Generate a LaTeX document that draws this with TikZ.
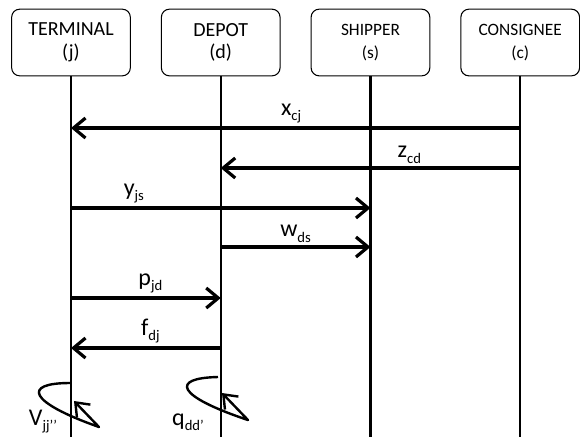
\documentclass[tikz,border=0pt]{standalone}
\usepackage{fontspec}
\setmainfont{Carlito}
\usetikzlibrary{arrows.meta,positioning}
\tikzset{
  actor/.style={
    rounded corners=6pt, draw=black, line width=0.8pt, fill=white,
    minimum width=89pt, minimum height=50pt, align=center,
    font=\fontsize{15}{17}\selectfont
  },
  smallactor/.style={actor, font=\fontsize{13}{17}\selectfont},
  lifeline/.style={line width=1.6pt},
  msg/.style={-{Straight Barb[length=9pt,width=15pt,line width=2.4pt]}, line width=3pt},
  selfmsg/.style={-{Straight Barb[length=9pt,width=14pt]}, line width=1.8pt, line join=round},
  lbl/.style={font=\fontsize{18}{18}\selectfont, inner sep=2pt}
}
\newcommand{\flowvar}[2]{#1{\fontsize{11}{11}\selectfont\raisebox{-4pt}{#2}}}

\begin{document}
\begin{tikzpicture}[x=0.75pt,y=-0.75pt,node distance=22.5pt]
    \useasboundingbox (0,0) rectangle (580,437);
    \node[actor] (term) at (71,42.5) {TERMINAL\\(j)};
    \node[actor,right=of term] (depot) {DEPOT\\(d)};
    \node[smallactor,right=of depot] (ship) {SHIPPER\\(s)};
    \node[smallactor,right=of ship] (cons) {CONSIGNEE\\(c)};
    \coordinate (bot) at (0,437);
    \foreach \n in {term,depot,ship,cons}
      \draw[lifeline] (\n.south) -- (\n.south |- bot);
    % message levels
    \coordinate (lx) at (0,128);
    \coordinate (lz) at (0,168);
    \coordinate (ly) at (0,208);
    \coordinate (lw) at (0,247);
    \coordinate (lp) at (0,298);
    \coordinate (lf) at (0,348);
    \draw[msg] (cons |- lx) -- node[lbl,above,pos=0.51] {\flowvar{x}{cj}} (term |- lx);
    \draw[msg] (cons |- lz) -- node[lbl,above,pos=0.37] {\flowvar{z}{cd}} (depot |- lz);
    \draw[msg] (term |- ly) -- node[lbl,above,pos=0.21] {\flowvar{y}{js}} (ship |- ly);
    \draw[msg] (depot |- lw) -- node[lbl,above] {\flowvar{w}{ds}} (ship |- lw);
    \draw[msg] (term |- lp) -- node[lbl,above,pos=0.53] {\flowvar{p}{jd}} (depot |- lp);
    \draw[msg] (depot |- lf) -- node[lbl,above,pos=0.47] {\flowvar{f}{dj}} (term |- lf);
    % self loops
    \coordinate (vs) at (70,383);
    \coordinate (vt) at (99,427);
    \coordinate (ve) at (74,401);
    \draw[selfmsg] (vs) .. controls (22,383) and (28,402) .. (vt) -- (ve);
    \node[lbl,anchor=base] (vlab) at (43,425) {\flowvar{V}{jj’’}};
    \coordinate (qs) at (218,377);
    \coordinate (qt) at (248,420);
    \coordinate (qe) at (222,393);
    \draw[selfmsg] (qs) .. controls (170,378) and (176,396) .. (qt) -- (qe);
    \node[lbl,anchor=base] (qlab) at (188,425) {\flowvar{q}{dd’}};
\end{tikzpicture}
\end{document}
